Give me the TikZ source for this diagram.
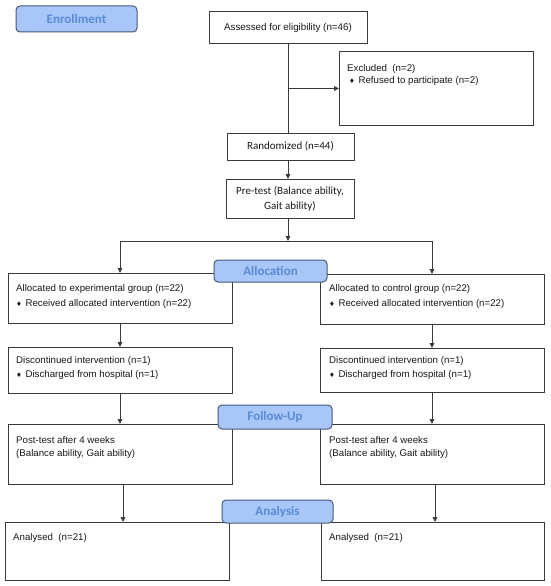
\documentclass[tikz,border=0pt]{standalone}
\usepackage{fontspec}
\setmainfont{Liberation Sans}
\newfontfamily\carl{Carlito}
\newfontfamily\dejav{DejaVu Sans}
\usetikzlibrary{arrows.meta}
\definecolor{labfill}{HTML}{A8C6F8}
\definecolor{labdraw}{HTML}{46597A}
\definecolor{labtext}{HTML}{5A8AD4}
\definecolor{boxdraw}{HTML}{3A3A3A}
\newcommand\dia{{\dejav\fontsize{6.5}{6.5}\selectfont ♦}\hspace{3.5pt}}
\tikzset{
  box/.style={draw=boxdraw, line width=1pt, rectangle, outer sep=0pt, inner sep=0pt, anchor=north west},
  lab/.style={draw=labdraw, fill=labfill, line width=1pt, rounded corners=4pt, outer sep=0pt, inner sep=0pt, anchor=north west,
    text=labtext, font=\carl\bfseries\fontsize{13}{15}\selectfont},
  txt/.style={anchor=base west, inner sep=0pt, font=\fontsize{9.7}{12}\selectfont, text=black!90},
  ctxt/.style={font=\carl\fontsize{11}{15}\selectfont, align=center, text=black!90},
  arr/.style={draw=boxdraw, line width=1pt, -{Triangle[length=5pt,width=4.5pt]}},
  ln/.style={draw=boxdraw, line width=1pt}
}
\newcommand\bx[6][]{\node[box,#1, minimum width={#5pt-#3pt}, minimum height={#6pt-#4pt}] (#2) at (#3,#4) {};}
\newcommand\lb[6]{\node[lab, minimum width={#4pt-#2pt}, minimum height={#5pt-#3pt}] (#1) at (#2,#3) {#6};}
\begin{document}
\begin{tikzpicture}[x=1pt,y=-1pt]
\useasboundingbox[fill=white] (0,0) rectangle (550,586);
% boxes
\bx{assess}{209}{12}{367}{44}
\bx{excl}{339}{52}{533}{125}
\bx{rand}{227}{133}{354}{160}
\bx{pre}{226}{179}{354}{218}
\bx{exp}{8}{273}{232}{323}
\bx{ctrl}{320}{274}{544}{324}
\bx{discE}{8}{347}{232}{393}
\bx{discC}{320}{348}{544}{392}
\bx{postE}{8}{424}{232}{484}
\bx{postC}{320}{424}{544}{484}
\bx{anaE}{5}{522}{229}{580}
\bx{anaC}{321}{522}{544}{580}
% centered texts
\node[font=\fontsize{9.8}{12}\selectfont, text=black!90] (tAssess) at (assess.center) {Assessed for eligibility (n=46)};
\node[ctxt] (tRand) at (rand.center) {Randomized (n=44)};
\node[ctxt] (tPre) at (pre.center) {Pre-test (Balance ability,\\Gait ability)};
% left texts
\node[txt] (tEx1) at (347,71) {Excluded\ \ (n=2)};
\node[txt] (tEx2) at (349,84) {\dia Refused to participate (n=2)};
\node[txt] (tE1) at (16,291) {Allocated to experimental group (n=22)};
\node[txt] (tE2) at (16,306) {\dia Received allocated intervention (n=22)};
\node[txt] (tC1) at (329,291) {Allocated to control group (n=22)};
\node[txt] (tC2) at (329,306) {\dia Received allocated intervention (n=22)};
\node[txt] (tDE1) at (16,363) {Discontinued intervention (n=1)};
\node[txt] (tDE2) at (16,377) {\dia Discharged from hospital (n=1)};
\node[txt] (tDC1) at (329,363) {Discontinued intervention (n=1)};
\node[txt] (tDC2) at (329,377) {\dia Discharged from hospital (n=1)};
\node[txt] (tPE1) at (16,443) {Post-test after 4 weeks};
\node[txt] (tPE2) at (16,456) {(Balance ability, Gait ability)};
\node[txt] (tPC1) at (329,443) {Post-test after 4 weeks};
\node[txt] (tPC2) at (329,456) {(Balance ability, Gait ability)};
\node[txt] (tAE) at (13,540) {Analysed\ \ (n=21)};
\node[txt] (tAC) at (329,540) {Analysed\ \ (n=21)};
% connectors
\coordinate (split) at (288,241);
\draw[ln] (assess.south) -- (assess.south |- rand.north);
\draw[arr] (assess.south |- excl.west) -- (excl.west);
\draw[arr] (assess.south |- rand.south) -- (assess.south |- pre.north);
\draw[arr] (assess.south |- pre.south) -- (split);
\draw[ln] (exp.north |- split) -- (ctrl.north |- split);
\draw[arr] (exp.north |- split) -- (exp.north);
\draw[arr] (ctrl.north |- split) -- (ctrl.north);
\draw[arr] (exp.south) -- (discE.north);
\draw[arr] (ctrl.south) -- (discC.north);
\draw[arr] (discE.south) -- (postE.north);
\draw[arr] (discC.south) -- (postC.north);
\draw[arr] (postE.south -| 123,0) -- (anaE.north -| 123,0);
\draw[arr] (postC.south -| 435,0) -- (anaC.north -| 435,0);
% stage labels
\lb{enroll}{16}{6}{137}{32}{Enrollment}
\lb{alloc}{214}{260}{327}{282}{Allocation}
\lb{follow}{218}{405}{332}{429}{Follow-Up}
\lb{analysis}{222}{500}{333}{523}{Analysis}
\end{tikzpicture}
\end{document}
